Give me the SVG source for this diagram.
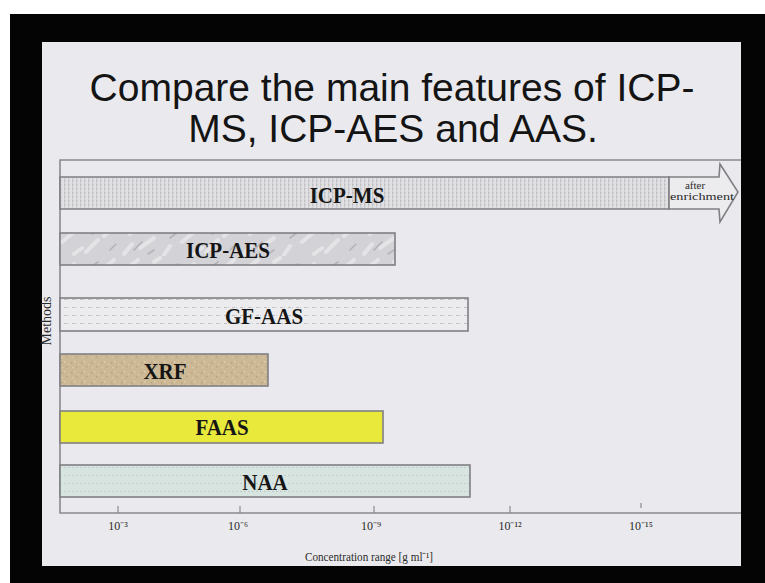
<svg xmlns="http://www.w3.org/2000/svg" width="765" height="583" viewBox="0 0 765 583">
<style>
.title{font-family:"Liberation Sans",Arial,sans-serif;font-size:39px;fill:#141414;text-anchor:middle}
.lbl{font-family:"Liberation Serif","Times New Roman",serif;font-weight:bold;font-size:21px;fill:#151515;text-anchor:middle}
.small{font-family:"Liberation Serif","Times New Roman",serif;fill:#2a2a2a;text-anchor:middle}
.bar{stroke:#808084;stroke-width:1.6}
.ax{stroke:#8a8a8e;stroke-width:1.6;fill:none}
.tick{stroke:#8a8a8e;stroke-width:1.2}
</style>
<defs>
<pattern id="pMS" width="4" height="4" patternUnits="userSpaceOnUse">
<rect width="4" height="4" fill="#e1e1e4"/>
<rect x="0" y="0" width="1.2" height="4" fill="#cdcdd1"/>
<rect x="0" y="0" width="1.4" height="1.4" fill="#bcbcc1"/>
</pattern>
<pattern id="pAES" width="120" height="32" patternUnits="userSpaceOnUse">
<rect width="120" height="32" fill="#d3d3d7"/>
<path d="M4 30 L12 20 M20 24 L34 14 M44 31 L50 22 M62 18 L74 8 M86 28 L98 16 M104 12 L114 4 M10 10 L18 4 M34 6 L40 2 M74 30 L82 24" stroke="#e6e6e9" stroke-width="4" stroke-linecap="round" opacity="0.9"/>
<path d="M14 26 L22 18 M50 14 L58 8 M92 10 L98 6 M28 30 L34 26 M110 26 L116 20" stroke="#b3b3b8" stroke-width="1.6" stroke-linecap="round"/>
</pattern>
<pattern id="pGF" width="8" height="8" patternUnits="userSpaceOnUse">
<rect width="8" height="8" fill="#ececee"/>
<rect x="0" y="3" width="3" height="1" fill="#c0c0c5"/>
<rect x="4" y="3" width="1" height="1" fill="#cbcbcf"/>
</pattern>
<pattern id="pXRF" width="10" height="10" patternUnits="userSpaceOnUse">
<rect width="10" height="10" fill="#ccb894"/>
<rect x="1" y="2" width="1.5" height="1.5" fill="#b7a27e"/>
<rect x="6" y="6" width="1.5" height="1.5" fill="#b9a480"/>
<rect x="4" y="1" width="1.5" height="1.5" fill="#dccfb0"/>
<rect x="8" y="4" width="1.2" height="1.2" fill="#dccfb0"/>
<rect x="2" y="7" width="1.2" height="1.2" fill="#dccfb0"/>
</pattern>
<pattern id="pNAA" width="4" height="8" patternUnits="userSpaceOnUse">
<rect width="4" height="8" fill="#d7e4e0"/>
<rect x="0" y="3" width="1.5" height="1" fill="#b9c8c4"/>
</pattern>
</defs>
<rect width="765" height="583" fill="#ffffff"/>
<rect x="10" y="14" width="755" height="569" fill="#040404"/>
<rect x="42" y="42" width="699" height="524" fill="#eaeaee"/>
<g id="title">
<text class="title" x="392" y="101">Compare the main features of ICP-</text>
<text class="title" x="393" y="142">MS, ICP-AES and AAS.</text>
</g>
<g id="axes">
<path class="ax" d="M741 160 H60 V513 H741"/>
<line class="tick" x1="118" y1="506" x2="118" y2="513"/>
<line class="tick" x1="240" y1="506" x2="240" y2="513"/>
<line class="tick" x1="374" y1="506" x2="374" y2="513"/>
<line class="tick" x1="510" y1="506" x2="510" y2="513"/>
<line class="tick" x1="641" y1="503" x2="641" y2="508"/>
<text class="small" font-size="12" x="118" y="530">10⁻³</text>
<text class="small" font-size="12" x="238" y="530">10⁻⁶</text>
<text class="small" font-size="12" x="371" y="530">10⁻⁹</text>
<text class="small" font-size="12" x="510" y="530">10⁻¹²</text>
<text class="small" font-size="12" x="641" y="530">10⁻¹⁵</text>
<text class="small" font-size="13" x="369" y="561" textLength="128" lengthAdjust="spacingAndGlyphs">Concentration range [g ml⁻¹]</text>
<text class="small" font-size="14" fill="#1e1e1e" transform="translate(51 321) rotate(-90)">Methods</text>
</g>
<g id="icp-ms">
<path class="bar" fill="url(#pMS)" d="M60 177 H669 V209 H60 Z"/>
<path class="bar" fill="#ececef" d="M669 177 H719 L720 164 L738 192 L720 222 L719 209 H669 Z"/>
<text class="lbl" transform="translate(347 203) scale(1 1.1)">ICP-MS</text>
<text class="small" font-size="11" x="695" y="189">after</text>
<text class="small" font-size="11" x="702" y="200" textLength="64" lengthAdjust="spacingAndGlyphs">enrichment</text>
</g>
<g id="icp-aes">
<rect class="bar" fill="url(#pAES)" x="60" y="233" width="335" height="32"/>
<text class="lbl" transform="translate(228 258) scale(1 1.1)">ICP-AES</text>
</g>
<g id="gf-aas">
<rect class="bar" fill="url(#pGF)" x="60" y="298" width="408" height="33"/>
<text class="lbl" transform="translate(264 324) scale(1 1.1)">GF-AAS</text>
</g>
<g id="xrf">
<rect class="bar" fill="url(#pXRF)" x="60" y="354" width="208" height="32"/>
<text class="lbl" transform="translate(165 379) scale(1 1.1)">XRF</text>
</g>
<g id="faas">
<rect class="bar" fill="#e9e93c" x="60" y="411" width="323" height="32"/>
<text class="lbl" transform="translate(222 435) scale(1 1.1)">FAAS</text>
</g>
<g id="naa">
<rect class="bar" fill="url(#pNAA)" x="60" y="465" width="410" height="32"/>
<text class="lbl" transform="translate(265 490) scale(1 1.1)">NAA</text>
</g>
</svg>
